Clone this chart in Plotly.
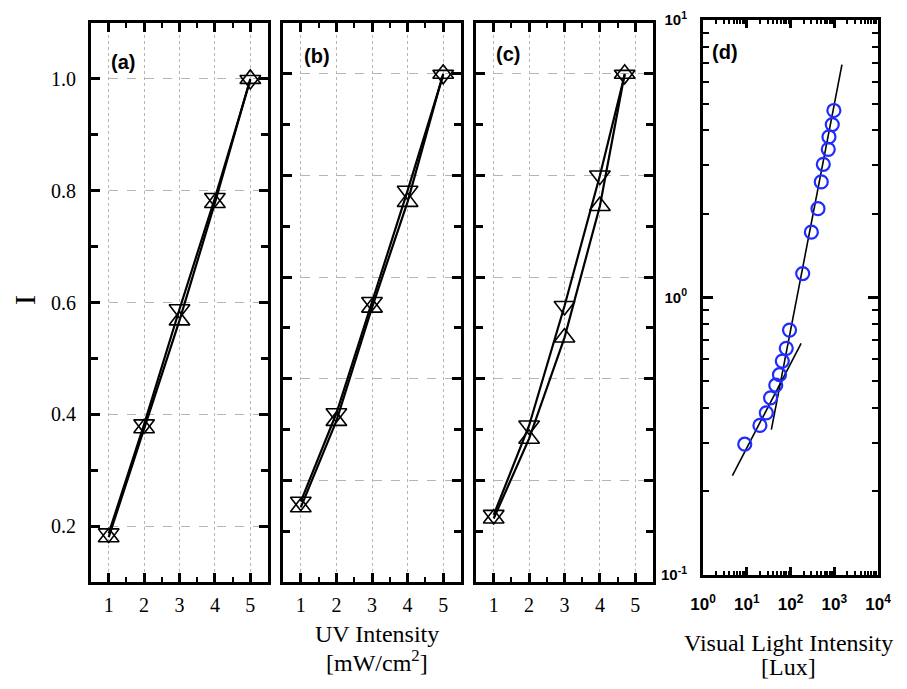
import plotly.graph_objects as go

# ---------------- data ----------------
uv_x = [1, 2, 3, 4, 5]
a_down = [0.187, 0.382, 0.588, 0.787, 0.998]
a_up = [0.180, 0.375, 0.568, 0.778, 1.0]
b_down = [0.158, 0.332, 0.551, 0.770, 0.998]
b_up = [0.147, 0.317, 0.540, 0.748, 1.0]
c_x = [1, 2, 3, 4, 4.7]
c_down = [0.132, 0.308, 0.543, 0.800, 0.998]
c_up = [0.125, 0.282, 0.481, 0.740, 1.0]

d_x = [9, 20, 28, 35, 46, 56, 65, 80, 95, 190, 300, 425, 505, 562, 730, 757, 901, 980]
d_y = [0.296, 0.346, 0.384, 0.435, 0.483, 0.527, 0.59, 0.656, 0.763,
       1.22, 1.72, 2.09, 2.61, 3.02, 3.42, 3.79, 4.2, 4.72]
fit1_x = [4.7, 175]
fit1_y = [0.228, 0.684]
fit2_x = [36.5, 1500]
fit2_y = [0.334, 6.9]

uv_ticks = [1, 2, 3, 4, 5]
i_ticks = [0.2, 0.4, 0.6, 0.8, 1.0]
lux_ticks = [1, 10, 100, 1000, 10000]
lux_labels = ["10<sup>0</sup>", "10<sup>1</sup>", "10<sup>2</sup>", "10<sup>3</sup>", "10<sup>4</sup>"]
d_yticks = [0.1, 1, 10]
d_ylabels = ["10<sup>-1</sup>", "10<sup>0</sup>", "10<sup>1</sup>"]

# page body has an 8px margin; lay out in window pixels
OFF = 8
W, H = 907 - 2 * OFF, 689 - 2 * OFF
def px(x):
    return (x - OFF) / W
def py(y):
    return 1 - (y - OFF) / H

fig = go.Figure()

panels = [
    ("x", "y", uv_x, a_down, uv_x, a_up),
    ("x2", "y2", uv_x, b_down, uv_x, b_up),
    ("x3", "y3", c_x, c_down, c_x, c_up),
]
for xa, ya, xd, yd, xu, yu in panels:
    fig.add_trace(go.Scatter(x=xd, y=yd, xaxis=xa, yaxis=ya, mode="lines+markers",
                             line=dict(color="black", width=2.2),
                             marker=dict(symbol="triangle-down-open", size=18, color="black",
                                         line=dict(width=1.6, color="black")),
                             showlegend=False))
    fig.add_trace(go.Scatter(x=xu, y=yu, xaxis=xa, yaxis=ya, mode="lines+markers",
                             line=dict(color="black", width=2.2),
                             marker=dict(symbol="triangle-up-open", size=18, color="black",
                                         line=dict(width=1.6, color="black")),
                             showlegend=False))

fig.add_trace(go.Scatter(x=fit1_x, y=fit1_y, xaxis="x4", yaxis="y4", mode="lines",
                         line=dict(color="black", width=1.6), showlegend=False))
fig.add_trace(go.Scatter(x=fit2_x, y=fit2_y, xaxis="x4", yaxis="y4", mode="lines",
                         line=dict(color="black", width=1.6), showlegend=False))
fig.add_trace(go.Scatter(x=d_x, y=d_y, xaxis="x4", yaxis="y4", mode="markers",
                         marker=dict(symbol="circle-open", size=13, color="#1f2bff",
                                     line=dict(width=2.2, color="#1f2bff")),
                         showlegend=False))

serif = "Liberation Serif"
sans = "Liberation Sans"

def lin_x(dom, anchor):
    return dict(domain=dom, anchor=anchor, range=[0.5, 5.5], tickvals=uv_ticks,
                automargin=False, ticklabelstandoff=3,
                ticks="inside", ticklen=9, tickwidth=2.5, tickcolor="black",
                showline=True, linewidth=3, linecolor="black", mirror="ticks",
                showgrid=True, gridcolor="#b5b5b5", griddash="dot", gridwidth=1,
                zeroline=False,
                minor=dict(dtick=0.5, tick0=0.5, ticks="inside", ticklen=5, tickwidth=2,
                           tickcolor="black", showgrid=False),
                tickfont=dict(family=serif, size=20, color="black"))

def lin_y(dom, anchor, rng, labels):
    return dict(domain=dom, anchor=anchor, range=rng, tickvals=i_ticks, tickformat=".1f",
                automargin=False, ticklabelstandoff=8,
                ticks="inside", ticklen=9, tickwidth=2.5, tickcolor="black",
                showline=True, linewidth=3, linecolor="black", mirror="ticks",
                showgrid=True, gridcolor="#b5b5b5", griddash="dash", gridwidth=1,
                zeroline=False, showticklabels=labels,
                minor=dict(dtick=0.1, tick0=0.1, ticks="inside", ticklen=7, tickwidth=2.5,
                           tickcolor="black", showgrid=False),
                tickfont=dict(family=serif, size=20, color="black"))

ydom = [py(582), py(23)]
minor_x = [m * 10 ** k for k in range(0, 4) for m in range(2, 10)]
minor_y = [m * 10 ** k for k in range(-1, 1) for m in range(2, 10)]

fig.update_layout(
    width=W, height=H,
    margin=dict(l=0, r=0, t=0, b=0),
    paper_bgcolor="white", plot_bgcolor="white",
    xaxis=lin_x([px(91), px(268)], "y"),
    yaxis=lin_y(ydom, "x", [0.1, 1.1], True),
    xaxis2=lin_x([px(283), px(461)], "y2"),
    yaxis2=lin_y(ydom, "x2", [0.0, 1.1], False),
    xaxis3=lin_x([px(476), px(653)], "y3"),
    yaxis3=lin_y(ydom, "x3", [0.0, 1.1], False),
    xaxis4=dict(domain=[px(703), px(878)], anchor="y4", type="log", range=[0, 4],
                automargin=False, ticklabelstandoff=12,
                tickvals=lux_ticks, ticktext=["<b>%s</b>" % t for t in lux_labels],
                ticks="inside", ticklen=8, tickwidth=2.5, tickcolor="black",
                showline=True, linewidth=3, linecolor="black", mirror="ticks",
                showgrid=False, zeroline=False,
                minor=dict(tickvals=minor_x, ticks="inside", ticklen=4, tickwidth=1.5,
                           tickcolor="black", showgrid=False),
                tickfont=dict(family=sans, size=17, color="black")),
    yaxis4=dict(domain=[py(575), py(20)], anchor="x4", type="log", range=[-1, 1],
                automargin=False, ticklabelstandoff=10,
                tickvals=d_yticks, ticktext=["<b>%s</b>" % t for t in d_ylabels],
                ticks="inside", ticklen=10, tickwidth=2.5, tickcolor="black",
                showline=True, linewidth=3, linecolor="black", mirror="ticks",
                showgrid=False, zeroline=False,
                minor=dict(tickvals=minor_y, ticks="inside", ticklen=6, tickwidth=2,
                           tickcolor="black", showgrid=False),
                tickfont=dict(family=sans, size=15, color="black")),
)

def note(text, x, y, font, **kw):
    return dict(text=text, x=px(x), y=py(y), xref="paper", yref="paper", showarrow=False,
                xanchor="center", yanchor="middle", font=font, **kw)

ann = []
for txt, x, y in [("(a)", 123, 62), ("(b)", 317, 56), ("(c)", 508, 54), ("(d)", 725, 52)]:
    ann.append(note("<b>%s</b>" % txt, x, y, dict(family=sans, size=20, color="black")))
ann.append(note("I", 24, 300, dict(family=serif, size=30, color="black"), textangle=-90))
ann.append(note("UV Intensity", 377, 634, dict(family=serif, size=24, color="black")))
ann.append(note("[mW/cm<sup>2</sup>]", 377, 661, dict(family=serif, size=24, color="black")))
ann.append(note("Visual Light Intensity", 788, 643, dict(family=serif, size=24, color="black")))
ann.append(note("[Lux]", 788, 667, dict(family=serif, size=24, color="black")))
fig.update_layout(annotations=ann)

fig.write_html("out.html")
